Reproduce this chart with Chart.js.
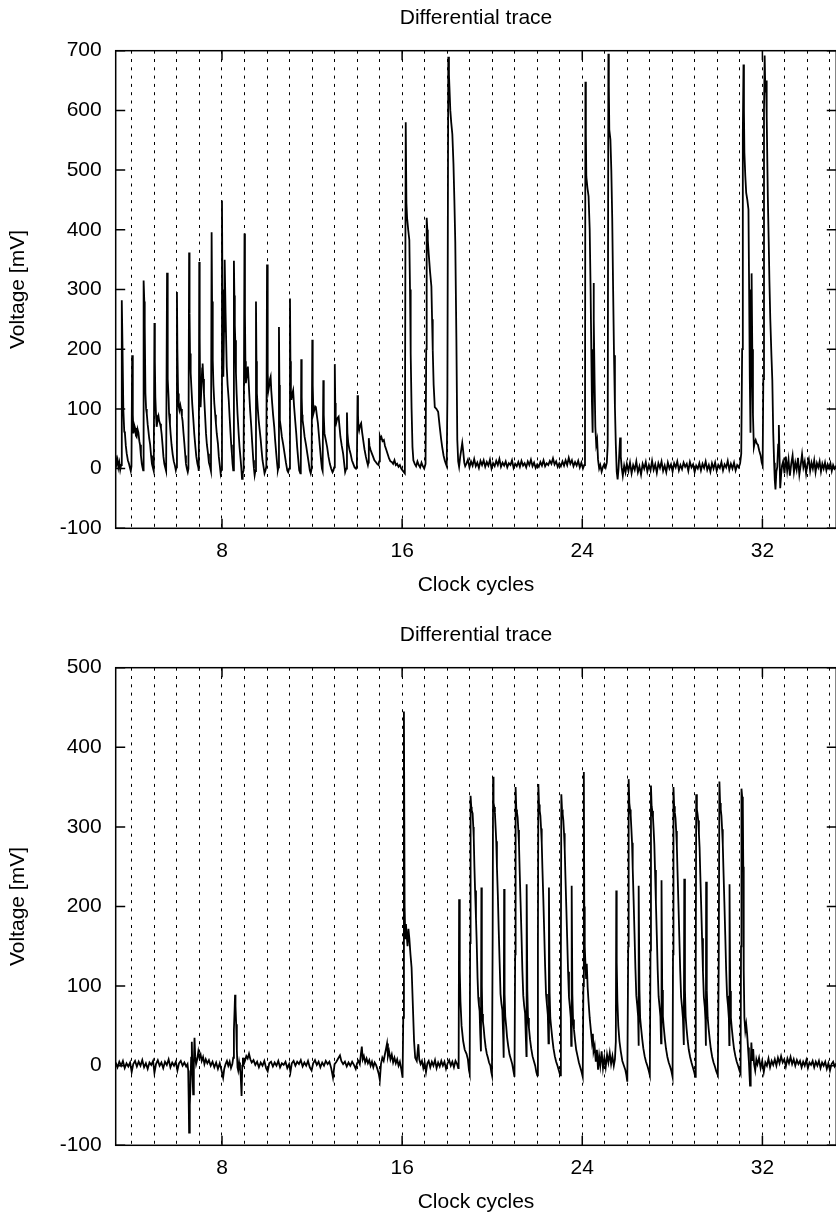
<!DOCTYPE html>
<html>
<head>
<meta charset="utf-8">
<title>Differential trace</title>
<script src="https://cdn.jsdelivr.net/npm/chart.js@4/dist/chart.umd.min.js"></script>
<style>
  html, body { margin: 0; padding: 0; background: #fff; }
  body { width: 836px; height: 1220px; overflow: hidden; position: relative; }
  canvas { position: absolute; left: 0; }
  #topChart { top: 0; }
  #bottomChart { top: 617px; }
</style>
</head>
<body>
<canvas id="topChart" width="840" height="610"></canvas>
<canvas id="bottomChart" width="840" height="610"></canvas>
<script>
/* ------------------------------
 * Data
 * each point: [clock cycle, voltage in mV]
 -------------------------------- */
const gridCycles = [4, 5, 6, 7, 8, 9, 10, 11, 12, 13, 14, 15, 16, 17, 18, 19, 20,
  21, 22, 23, 24, 25, 26, 27, 28, 29, 30, 31, 32, 33, 34, 35];
const labelCycles = [8, 16, 24, 32];

// upper plot: decaying bursts before cycle 16
const topRamp = [
  [3.28, 22], [3.32, 8], [3.36, 15], [3.40, 2], [3.44, 10], [3.48, -2], [3.52, 6],
  [3.55, 282], [3.58, 210], [3.62, 98], [3.66, 62], [3.69, 59], [3.73, 38], [3.77, 25], [3.82, 14], [3.87, 8], [3.91, 2], [3.95, -4], [3.98, 4],
  [4.01, 190], [4.04, 90], [4.07, 59], [4.11, 72], [4.14, 68], [4.18, 55], [4.21, 53], [4.25, 66], [4.29, 60], [4.33, 46], [4.36, 40], [4.40, 22], [4.44, 8], [4.47, 2], [4.50, -3],
  [4.52, 315], [4.55, 280], [4.57, 240], [4.60, 126], [4.63, 100], [4.66, 92], [4.70, 74], [4.73, 64], [4.77, 50], [4.81, 40], [4.85, 22], [4.89, 8], [4.93, 2], [4.97, -4],
  [5.00, 244], [5.02, 180], [5.04, 120], [5.07, 90], [5.10, 70], [5.14, 82], [5.18, 88], [5.21, 80], [5.25, 75], [5.29, 68], [5.32, 58], [5.36, 40], [5.40, 20], [5.44, 8], [5.48, 2], [5.52, -4],
  [5.56, 328], [5.58, 230], [5.60, 150], [5.63, 118], [5.65, 92], [5.69, 74], [5.72, 58], [5.76, 40], [5.81, 24], [5.86, 12], [5.91, 5], [5.95, -3], [5.98, 2],
  [6.00, 296], [6.02, 200], [6.05, 126], [6.08, 104], [6.11, 98], [6.15, 106], [6.18, 100], [6.22, 88], [6.25, 80], [6.29, 60], [6.33, 42], [6.37, 22], [6.40, 8], [6.44, 0], [6.48, -6], [6.51, 0],
  [6.54, 362], [6.56, 260], [6.58, 193], [6.61, 160], [6.64, 137], [6.68, 108], [6.73, 81], [6.77, 58], [6.82, 36], [6.86, 20], [6.91, 8], [6.95, 2], [6.97, -4],
  [6.99, 346], [7.01, 220], [7.03, 130], [7.05, 103], [7.09, 140], [7.12, 168], [7.14, 176], [7.17, 150], [7.20, 126], [7.24, 96], [7.29, 59], [7.33, 40], [7.38, 25], [7.42, 10], [7.47, 3], [7.51, -4],
  [7.54, 396], [7.56, 280], [7.59, 182], [7.62, 140], [7.66, 109], [7.70, 90], [7.73, 76], [7.77, 58], [7.82, 42], [7.86, 20], [7.91, 3], [7.94, -8], [7.97, -2],
  [8.00, 449], [8.02, 300], [8.04, 200], [8.06, 154], [8.09, 230], [8.11, 320], [8.13, 350], [8.16, 260], [8.21, 171], [8.25, 140], [8.30, 115], [8.34, 86], [8.38, 59], [8.41, 40], [8.44, 25], [8.47, 8], [8.50, -3],
  [8.53, 348], [8.55, 290], [8.57, 240], [8.59, 215], [8.62, 160], [8.65, 126], [8.69, 92], [8.74, 59], [8.78, 36], [8.83, 14], [8.86, 0], [8.89, -17], [8.92, -8], [8.96, -3],
  [9.00, 394], [9.02, 260], [9.04, 180], [9.06, 143], [9.10, 155], [9.13, 168], [9.15, 171], [9.18, 150], [9.21, 126], [9.25, 98], [9.30, 70], [9.34, 44], [9.39, 14], [9.42, 0], [9.45, -11], [9.48, -4],
  [9.51, 280], [9.53, 180], [9.55, 126], [9.59, 100], [9.63, 81], [9.67, 66], [9.72, 48], [9.76, 30], [9.80, 14], [9.85, 2], [9.89, -8], [9.94, -2], [9.97, 4],
  [10.00, 342], [10.02, 230], [10.04, 160], [10.06, 131], [10.10, 140], [10.13, 150], [10.16, 154], [10.19, 130], [10.23, 109], [10.27, 90], [10.32, 70], [10.36, 48], [10.41, 25], [10.45, 8], [10.48, -3], [10.51, 2],
  [10.53, 237], [10.55, 140], [10.57, 81], [10.61, 70], [10.66, 53], [10.72, 40], [10.78, 25], [10.84, 10], [10.90, -3], [10.94, -6], [10.98, 0],
  [11.02, 285], [11.04, 180], [11.06, 130], [11.08, 115], [11.12, 125], [11.16, 131], [11.20, 105], [11.25, 81], [11.30, 58], [11.34, 36], [11.38, 18], [11.43, -3], [11.48, -8], [11.50, -2],
  [11.52, 183], [11.54, 120], [11.56, 90], [11.58, 81], [11.62, 70], [11.67, 53], [11.73, 40], [11.79, 25], [11.85, 10], [11.90, -3], [11.94, -8], [11.98, 0],
  [12.01, 216], [12.03, 140], [12.06, 92], [12.10, 98], [12.14, 104], [12.17, 103], [12.21, 90], [12.26, 76], [12.30, 58], [12.35, 36], [12.40, 14], [12.44, 0], [12.47, -4],
  [12.50, 148], [12.52, 90], [12.55, 59], [12.61, 48], [12.67, 36], [12.73, 20], [12.79, 8], [12.85, 0], [12.91, -6], [12.95, -3], [12.98, 2],
  [13.01, 175], [13.03, 110], [13.05, 80], [13.07, 76], [13.12, 84], [13.18, 87], [13.22, 70], [13.26, 53], [13.32, 38], [13.38, 25], [13.43, 8], [13.47, -6], [13.52, 0],
  [13.55, 94], [13.57, 60], [13.61, 42], [13.66, 32], [13.71, 25], [13.77, 14], [13.83, 8], [13.89, 2], [13.95, 0], [13.99, 4],
  [14.02, 123], [14.04, 90], [14.06, 70], [14.09, 64], [14.13, 72], [14.18, 76], [14.22, 62], [14.27, 48], [14.33, 32], [14.39, 20], [14.44, 12], [14.48, 6], [14.50, 10],
  [14.52, 51], [14.55, 38], [14.60, 31], [14.65, 26], [14.71, 20], [14.77, 14], [14.83, 11], [14.89, 8], [14.95, 6], [14.98, 12],
  [15.01, 54], [15.04, 50], [15.08, 53], [15.13, 46], [15.19, 48], [15.24, 38], [15.30, 31], [15.36, 24], [15.42, 17], [15.48, 12], [15.54, 11], [15.60, 8], [15.66, 14],
  [15.72, 6], [15.78, 8], [15.84, 3], [15.90, 6], [15.96, 0], [16.02, -3], [16.08, -6], [16.12, -8]
];

// upper plot: three tall spikes around 16-18
const topBurstA = [
  [16.16, 580], [16.19, 445], [16.22, 420], [16.27, 400], [16.32, 383], [16.35, 300], [16.38, 193], [16.42, 100], [16.46, 36], [16.50, 14],
  [16.56, 8], [16.62, 4], [16.68, 12], [16.74, 6], [16.80, 2], [16.86, 10], [16.92, 4], [16.98, 0], [17.04, 8],
  [17.07, 200], [17.09, 420], [17.12, 400], [17.14, 383], [17.18, 360], [17.24, 330], [17.30, 305], [17.33, 250], [17.36, 198], [17.40, 140], [17.45, 103],
  [17.52, 100], [17.60, 95], [17.67, 70], [17.73, 50], [17.78, 36], [17.84, 22], [17.89, 14], [17.94, 8], [17.98, 4],
  [18.01, 120], [18.05, 690], [18.08, 660], [18.10, 640], [18.14, 600], [18.18, 580], [18.23, 560], [18.28, 510], [18.32, 450], [18.36, 380], [18.41, 215],
  [18.45, 48], [18.49, 12], [18.53, 3], [18.58, 20], [18.62, 30], [18.67, 43], [18.71, 30], [18.76, 10], [18.80, 4]
];

const topQuietA = [
  [18.85, 8], [18.92, 15], [18.99, 2], [19.06, 12], [19.13, 5], [19.20, 16], [19.27, 4], [19.34, 10], [19.41, 1], [19.48, 13],
  [19.55, 6], [19.62, 14], [19.69, 3], [19.76, 11], [19.83, 5], [19.90, 15], [19.97, 0], [20.04, 9], [20.11, 4], [20.18, 13],
  [20.25, 6], [20.32, 16], [20.39, 3], [20.46, 10], [20.53, 5], [20.60, 12], [20.67, 2], [20.74, 9], [20.81, 6], [20.88, 14],
  [20.95, 1], [21.02, 8], [21.09, 4], [21.16, 11], [21.23, 3], [21.30, 13], [21.37, 5], [21.44, 9], [21.51, 2], [21.58, 12],
  [21.65, 6], [21.72, 15], [21.79, 4], [21.86, 10], [21.93, 1], [22.00, 7], [22.07, 3], [22.14, 11], [22.21, 5], [22.28, 14],
  [22.35, 4], [22.42, 9], [22.49, 6], [22.56, 13], [22.63, 8], [22.70, 17], [22.77, 7], [22.84, 12], [22.91, 3], [22.98, 9],
  [23.05, 4], [23.12, 12], [23.19, 5], [23.26, 14], [23.33, 6], [23.40, 18], [23.47, 8], [23.54, 14], [23.61, 4], [23.68, 11],
  [23.75, 5], [23.82, 13], [23.89, 2], [23.96, 10], [24.03, 0], [24.09, 6]
];

const topBurstB = [
  [24.12, 12], [24.14, 648], [24.16, 560], [24.18, 489], [24.23, 470], [24.28, 456], [24.33, 400], [24.37, 300], [24.40, 200], [24.43, 110],
  [24.46, 60], [24.48, 150], [24.50, 311], [24.52, 250], [24.55, 140], [24.58, 70], [24.62, 40], [24.66, 48], [24.70, 15], [24.75, 0],
  [24.80, 6], [24.86, -5], [24.92, 3], [24.98, 8], [25.04, 2], [25.09, 10], [25.13, 40], [25.16, 695], [25.18, 640], [25.20, 568],
  [25.25, 551], [25.29, 500], [25.33, 420], [25.37, 300], [25.41, 190], [25.45, 103], [25.49, 40], [25.53, -5], [25.57, -18], [25.61, 0],
  [25.65, 30], [25.68, 52], [25.71, 20], [25.75, 2], [25.80, -12], [25.86, 5], [25.92, -6]
];

const topQuietB = [
  [25.98, 8], [26.05, -4], [26.12, 10], [26.19, -8], [26.26, 6], [26.33, -2], [26.40, 12], [26.47, -6], [26.54, 4], [26.61, -10],
  [26.68, 8], [26.75, 0], [26.82, 11], [26.89, -5], [26.96, 6], [27.03, -3], [27.10, 13], [27.17, -2], [27.24, 7], [27.31, -7],
  [27.38, 9], [27.45, 1], [27.52, 12], [27.59, -4], [27.66, 5], [27.73, -6], [27.80, 10], [27.87, 0], [27.94, 7], [28.01, -5],
  [28.08, 9], [28.15, 2], [28.22, 12], [28.29, -3], [28.36, 6], [28.43, -1], [28.50, 10], [28.57, 3], [28.64, 8], [28.71, -4],
  [28.78, 11], [28.85, 2], [28.92, 7], [28.99, -6], [29.06, 5], [29.13, 0], [29.20, 9], [29.27, -3], [29.34, 8], [29.41, 1],
  [29.48, 12], [29.55, -2], [29.62, 6], [29.69, -5], [29.76, 9], [29.83, 0], [29.90, 10], [29.97, -4], [30.04, 6], [30.11, 1],
  [30.18, 11], [30.25, -3], [30.32, 7], [30.39, 2], [30.46, 13], [30.53, -2], [30.60, 8], [30.67, 0], [30.74, 10], [30.81, -3],
  [30.88, 6], [30.95, 2], [31.01, 9]
];

const topBurstC = [
  [31.06, 25], [31.10, 200], [31.13, 560], [31.16, 677], [31.18, 600], [31.20, 529], [31.24, 490], [31.28, 462], [31.33, 450], [31.38, 434],
  [31.41, 300], [31.44, 150], [31.47, 60], [31.50, 200], [31.52, 327], [31.55, 200], [31.58, 90], [31.62, 36], [31.66, 44], [31.70, 48],
  [31.75, 42], [31.80, 40], [31.86, 30], [31.92, 22], [31.97, 10], [32.01, 5], [32.04, 150], [32.07, 600], [32.10, 692], [32.13, 630],
  [32.16, 650], [32.19, 590], [32.24, 456], [32.28, 380], [32.31, 316], [32.35, 250], [32.40, 190], [32.44, 148], [32.48, 60], [32.52, 10],
  [32.55, -20], [32.58, -35], [32.62, -5], [32.66, 3], [32.70, 40], [32.73, 73], [32.76, 20], [32.79, -33], [32.83, -10], [32.87, 5]
];

const topTail = [
  [32.92, 12], [32.98, -8], [33.04, 20], [33.10, -4], [33.16, 15], [33.22, -12], [33.28, 8], [33.34, 22], [33.40, -6], [33.46, 10],
  [33.52, -2], [33.58, 18], [33.64, -10], [33.70, 6], [33.76, 24], [33.82, 2], [33.88, 12], [33.94, -8], [34.00, 8], [34.06, 16],
  [34.12, -4], [34.18, 10], [34.24, 0], [34.30, 14], [34.36, -6], [34.42, 9], [34.48, 2], [34.54, 12], [34.60, -5], [34.66, 8],
  [34.72, 0], [34.78, 10], [34.84, -3], [34.90, 7], [34.96, 1], [35.02, 9], [35.08, -4], [35.14, 6], [35.20, 0], [35.28, 5]
];

// lower plot: quiet start with a few glitches
const bottomQuiet = [
  [3.28, 4], [3.36, -2], [3.44, 5], [3.52, 0], [3.60, 6], [3.68, -3], [3.76, 3], [3.84, -1], [3.92, 4], [3.99, -8],
  [4.06, 2], [4.14, 6], [4.22, -1], [4.30, 5], [4.38, 0], [4.46, 7], [4.54, -2], [4.62, 3], [4.70, -4], [4.78, 4],
  [4.86, 1], [4.94, 6], [5.00, -9], [5.07, 2], [5.15, 7], [5.23, 0], [5.31, 4], [5.39, -3], [5.47, 5], [5.55, 1],
  [5.63, 8], [5.71, -2], [5.79, 4], [5.87, 0], [5.95, 5], [6.02, -6], [6.09, 3], [6.17, 6], [6.25, 0], [6.33, 4],
  [6.41, -1], [6.47, 2], [6.50, -6], [6.52, -40], [6.54, -84], [6.57, -50], [6.60, -25], [6.63, 10], [6.66, 30], [6.69, -10],
  [6.72, -36], [6.75, 0], [6.78, 35], [6.81, 12], [6.85, 2], [6.90, 8], [6.95, 18], [7.00, 10], [7.05, 14], [7.10, 6],
  [7.16, 11], [7.22, 2], [7.28, 8], [7.35, 3], [7.42, 7], [7.50, 0], [7.58, 5], [7.66, -2], [7.74, 4], [7.82, -4],
  [7.90, 3], [7.98, -6], [8.05, -15], [8.10, -4], [8.16, 2], [8.22, 6], [8.28, 0], [8.34, 5], [8.40, -3], [8.46, 2],
  [8.50, 10], [8.53, 45], [8.56, 70], [8.58, 89], [8.60, 75], [8.63, 52], [8.66, 20], [8.69, -2], [8.72, -6], [8.76, 4],
  [8.80, -4], [8.83, -12], [8.87, -38], [8.90, 0], [8.93, 10], [8.97, 2], [9.02, 6], [9.08, 12], [9.14, 9], [9.20, 15],
  [9.26, 8], [9.32, 4], [9.40, 7], [9.48, 1], [9.56, 5], [9.64, -2], [9.72, 4], [9.80, 0], [9.88, 6], [9.96, -3],
  [10.03, -7], [10.10, 3], [10.18, 5], [10.26, -1], [10.34, 4], [10.42, 0], [10.50, 6], [10.58, -2], [10.66, 3], [10.74, 1],
  [10.82, 5], [10.90, -3], [10.98, 2], [11.04, -8], [11.10, 3], [11.18, 6], [11.26, 0], [11.34, 5], [11.42, 2], [11.50, 7],
  [11.58, -1], [11.66, 4], [11.74, 0], [11.82, 6], [11.90, -2], [11.98, -6], [12.05, 3], [12.13, 7], [12.21, 1], [12.29, 5],
  [12.37, -2], [12.45, 4], [12.53, 0], [12.61, 6], [12.69, 2], [12.77, 5], [12.85, -3], [12.93, -15], [13.00, 2], [13.08, 5],
  [13.16, 9], [13.24, 13], [13.30, 6], [13.38, 2], [13.46, 5], [13.54, -1], [13.62, 4], [13.70, 0], [13.78, 5], [13.86, 1],
  [13.94, -4], [14.00, 3], [14.06, 6], [14.12, 2], [14.17, 15], [14.21, 24], [14.25, 8], [14.30, 12], [14.36, 4], [14.42, 9],
  [14.48, 3], [14.54, 7], [14.60, 0], [14.66, 5], [14.72, -2], [14.78, 4], [14.84, 1], [14.90, -4], [14.96, -10], [15.01, -18],
  [15.06, 2], [15.12, 10], [15.18, 6], [15.24, 15], [15.29, 22], [15.33, 28], [15.37, 12], [15.42, 18], [15.48, 8], [15.54, 14],
  [15.60, 4], [15.66, 10], [15.72, 3], [15.78, 8], [15.84, 0], [15.90, 5], [15.96, -4], [16.02, -15]
];

const bottomSpike = [
  [16.05, 60], [16.08, 445], [16.11, 200], [16.14, 160], [16.17, 178], [16.20, 165], [16.24, 150], [16.28, 172], [16.32, 160], [16.37, 140],
  [16.42, 123], [16.47, 81], [16.53, 31], [16.58, 10], [16.65, 6], [16.69, 18], [16.72, 27], [16.76, 8], [16.82, 2], [16.88, 6],
  [16.94, -3], [17.00, 4], [17.06, -8], [17.12, 3], [17.18, 6], [17.25, -2], [17.32, 5], [17.39, 0], [17.46, 7], [17.53, -3],
  [17.60, 4], [17.67, -1], [17.74, 6], [17.81, 0], [17.88, 5], [17.95, -4], [18.02, 3], [18.09, 7], [18.16, 0], [18.23, 5],
  [18.30, -2], [18.37, 6], [18.44, 2], [18.49, -3]
];

// lower plot: square pulses, cycles 19-24
const bottomPulsesA = [
  [18.51, 0], [18.53, 209], [18.56, 120], [18.59, 81], [18.64, 50], [18.71, 31], [18.78, 20], [18.86, 15], [18.92, 8], [18.97, -6], [19.00, -10],
  [19.02, 154], [19.04, 339], [19.07, 325], [19.09, 321], [19.13, 317], [19.16, 300], [19.18, 287], [19.21, 250], [19.24, 220], [19.28, 185],
  [19.31, 157], [19.35, 110], [19.38, 86], [19.41, 76], [19.44, 69], [19.47, 40], [19.50, 18], [19.52, 224], [19.54, 100], [19.56, 65],
  [19.59, 55], [19.62, 48], [19.66, 35], [19.71, 23], [19.76, 15], [19.81, 10], [19.86, 4], [19.92, 0], [19.96, -8], [19.99, -12],
  [20.02, 160], [20.04, 363], [20.06, 330], [20.09, 325], [20.12, 318], [20.15, 300], [20.18, 282], [20.21, 250], [20.25, 215], [20.29, 170],
  [20.33, 130], [20.37, 90], [20.41, 78], [20.45, 70], [20.49, 35], [20.51, 10], [20.53, 222], [20.55, 90], [20.58, 62], [20.62, 50],
  [20.66, 36], [20.71, 25], [20.77, 14], [20.83, 8], [20.89, 2], [20.94, -6], [20.99, -14],
  [21.02, 140], [21.04, 350], [21.07, 322], [21.10, 318], [21.13, 312], [21.16, 296], [21.19, 278], [21.22, 245], [21.26, 205], [21.30, 165],
  [21.34, 120], [21.38, 88], [21.42, 75], [21.46, 66], [21.50, 30], [21.52, 12], [21.53, 228], [21.56, 95], [21.59, 60], [21.63, 48],
  [21.68, 33], [21.73, 22], [21.79, 12], [21.85, 6], [21.91, 0], [21.96, -8], [22.00, -12],
  [22.03, 150], [22.05, 354], [22.08, 328], [22.11, 320], [22.14, 314], [22.17, 298], [22.20, 280], [22.23, 248], [22.27, 210], [22.31, 168],
  [22.35, 125], [22.39, 90], [22.43, 77], [22.47, 64], [22.50, 28], [22.52, 224], [22.55, 92], [22.58, 60], [22.62, 48], [22.67, 34],
  [22.72, 22], [22.78, 12], [22.84, 5], [22.90, 0], [22.96, -6], [23.02, -12],
  [23.05, 140], [23.07, 341], [23.10, 322], [23.13, 316], [23.16, 308], [23.19, 292], [23.22, 272], [23.25, 240], [23.29, 200], [23.33, 160],
  [23.37, 118], [23.41, 86], [23.45, 74], [23.49, 60], [23.51, 25], [23.53, 226], [23.56, 90], [23.59, 58], [23.63, 46], [23.68, 32],
  [23.73, 20], [23.79, 12], [23.85, 4], [23.91, -2], [23.97, -8], [24.02, -14],
  [24.05, 100], [24.07, 369], [24.09, 200], [24.11, 150], [24.14, 128], [24.17, 110], [24.20, 128], [24.24, 98], [24.28, 80], [24.33, 60],
  [24.38, 45], [24.43, 30], [24.47, 40], [24.50, 18]
];

const bottomGap = [
  [24.55, 25], [24.60, 5], [24.65, 20], [24.70, -5], [24.75, 12], [24.80, 0], [24.86, 18], [24.92, -3], [24.98, 10], [25.04, -2],
  [25.10, 14], [25.16, 4], [25.22, 16], [25.28, 2], [25.34, 12], [25.40, 0], [25.45, 8], [25.49, 30], [25.51, 220], [25.53, 130],
  [25.56, 81], [25.60, 50], [25.65, 31], [25.71, 18], [25.78, 6], [25.85, 0], [25.91, -5], [25.96, -12], [26.00, -20]
];

// lower plot: square pulses, cycles 26-31
const bottomPulsesB = [
  [26.04, 150], [26.06, 360], [26.09, 330], [26.12, 322], [26.15, 315], [26.18, 298], [26.21, 280], [26.24, 248], [26.28, 208], [26.32, 166],
  [26.36, 122], [26.40, 88], [26.44, 76], [26.48, 62], [26.50, 25], [26.51, 226], [26.54, 95], [26.57, 60], [26.61, 48], [26.66, 34],
  [26.71, 22], [26.77, 12], [26.83, 5], [26.89, 0], [26.95, -6], [27.00, -12],
  [27.03, 145], [27.05, 352], [27.08, 326], [27.11, 320], [27.14, 312], [27.17, 296], [27.20, 278], [27.23, 246], [27.27, 205], [27.31, 164],
  [27.35, 120], [27.39, 87], [27.43, 75], [27.47, 62], [27.50, 28], [27.52, 233], [27.55, 95], [27.58, 62], [27.62, 48], [27.67, 33],
  [27.72, 21], [27.78, 11], [27.84, 4], [27.90, -1], [27.96, -7], [28.01, -14],
  [28.03, 140], [28.05, 350], [28.08, 326], [28.11, 318], [28.14, 311], [28.17, 295], [28.20, 276], [28.23, 244], [28.27, 204], [28.31, 162],
  [28.35, 119], [28.39, 86], [28.43, 74], [28.47, 60], [28.51, 26], [28.53, 235], [28.56, 96], [28.59, 62], [28.63, 47], [28.68, 32],
  [28.73, 20], [28.79, 11], [28.85, 4], [28.91, -2], [28.97, -8], [29.02, -14],
  [29.04, 130], [29.06, 341], [29.09, 322], [29.12, 316], [29.15, 308], [29.18, 292], [29.21, 274], [29.24, 242], [29.28, 202], [29.32, 160],
  [29.36, 118], [29.40, 86], [29.44, 74], [29.47, 58], [29.49, 25], [29.50, 231], [29.53, 94], [29.57, 60], [29.61, 47], [29.66, 33],
  [29.71, 21], [29.77, 11], [29.83, 4], [29.89, -1], [29.95, -7], [30.02, -12],
  [30.06, 130], [30.09, 357], [30.12, 330], [30.15, 322], [30.18, 314], [30.21, 297], [30.24, 278], [30.27, 246], [30.31, 206], [30.35, 164],
  [30.39, 120], [30.43, 88], [30.47, 76], [30.51, 60], [30.53, 26], [30.54, 228], [30.57, 94], [30.60, 60], [30.64, 47], [30.69, 33],
  [30.74, 21], [30.80, 12], [30.86, 5], [30.92, 0], [30.98, -6], [31.03, -10],
  [31.05, 150], [31.07, 348], [31.10, 338], [31.13, 330], [31.15, 250], [31.17, 120], [31.20, 60], [31.24, 44], [31.28, 52], [31.32, 40],
  [31.36, 23], [31.40, 5], [31.45, -25], [31.48, 0], [31.51, 29], [31.55, 6], [31.59, 21], [31.63, 2], [31.68, -6], [31.73, 8]
];

const bottomTail = [
  [31.78, 2], [31.85, 10], [31.92, -3], [31.99, 6], [32.06, -8], [32.13, 4], [32.20, 0], [32.27, 9], [32.34, -2], [32.41, 6],
  [32.48, 1], [32.55, 8], [32.62, 0], [32.69, 10], [32.76, 3], [32.83, 12], [32.90, 4], [32.97, 8], [33.04, -1], [33.11, 9],
  [33.18, 3], [33.25, 11], [33.32, 2], [33.39, 8], [33.46, 0], [33.53, 7], [33.60, 2], [33.67, 6], [33.74, -2], [33.81, 5],
  [33.88, 0], [33.95, 7], [34.02, -3], [34.09, 4], [34.16, 1], [34.23, 6], [34.30, -2], [34.37, 5], [34.44, 0], [34.51, 6],
  [34.58, -3], [34.65, 4], [34.72, 0], [34.79, 5], [34.86, -4], [34.93, 3], [35.00, -6], [35.07, 2], [35.14, 5], [35.21, -1], [35.28, 3]
];

window.addEventListener("DOMContentLoaded", function () {
  const FONT = { family: "'Liberation Sans', Arial, Helvetica, sans-serif", size: 21, weight: "normal" };
  const TICK_LEN = 9.5;

  /** ------------------------------
   * [1] frame + inward tick marks (gnuplot look)
   -------------------------------- */
  const framePlugin = {
    id: "frame",
    afterDatasetsDraw(chart) {
      const { ctx, chartArea: a, scales } = chart;
      const xs = scales.x, ys = scales.y;
      ctx.save();
      ctx.strokeStyle = "#000";
      ctx.lineWidth = 1.5;
      ctx.strokeRect(a.left, a.top, a.right - a.left, a.bottom - a.top);
      ctx.beginPath();
      ys.ticks.forEach(t => {
        const py = ys.getPixelForValue(t.value);
        ctx.moveTo(a.left, py); ctx.lineTo(a.left + TICK_LEN, py);
        ctx.moveTo(a.right, py); ctx.lineTo(a.right - TICK_LEN, py);
      });
      labelCycles.forEach(v => {
        const px = xs.getPixelForValue(v);
        ctx.moveTo(px, a.bottom); ctx.lineTo(px, a.bottom - TICK_LEN);
        ctx.moveTo(px, a.top); ctx.lineTo(px, a.top + TICK_LEN);
      });
      ctx.stroke();
      ctx.restore();
    }
  };

  /** ------------------------------
   * [2] one trace plot
   -------------------------------- */
  function drawTrace(canvasId, segments, yMin, yMax) {
    const points = [].concat(...segments).map(p => ({ x: p[0], y: p[1] }));
    new Chart(document.getElementById(canvasId), {
      type: "line",
      data: {
        datasets: [{
          data: points,
          borderColor: "#000",
          borderWidth: 1.8,
          pointRadius: 0,
          tension: 0,
          fill: false
        }]
      },
      options: {
        responsive: false,
        animation: false,
        events: [],
        layout: { padding: { left: 0, right: 3, top: 0, bottom: 0 } },
        plugins: {
          legend: { display: false },
          tooltip: { enabled: false },
          title: {
            display: true,
            fullSize: false,   // centre over the plot box, not the canvas
            text: "Differential trace",
            color: "#000",
            font: FONT,
            padding: { top: 5.4, bottom: 20.1 }
          }
        },
        scales: {
          x: {
            type: "linear",
            min: 3.28,
            max: 35.28,
            afterBuildTicks: axis => { axis.ticks = gridCycles.map(v => ({ value: v })); },
            afterFit: axis => { axis.height = 81.7; },
            ticks: {
              autoSkip: false,
              maxRotation: 0,
              padding: 10,
              color: "#000",
              font: FONT,
              callback: v => (labelCycles.includes(v) ? String(v) : "")
            },
            grid: { color: "#000", lineWidth: 1, drawTicks: false },
            border: { display: false, dash: [3, 5.3] },
            title: { display: true, text: "Clock cycles", color: "#000", font: FONT, padding: { top: 0, bottom: 12.4 } }
          },
          y: {
            min: yMin,
            max: yMax,
            afterFit: axis => { axis.width = 115.7; },
            ticks: { stepSize: 100, padding: 14, color: "#000", font: FONT },
            grid: { display: false, drawTicks: false },
            border: { display: false },
            title: { display: true, text: "Voltage [mV]", color: "#000", font: FONT, padding: { top: 5.4, bottom: 0 } }
          }
        }
      },
      plugins: [framePlugin]
    });
  }

  /** ------------------------------
   * [3] upper and lower plots
   -------------------------------- */
  drawTrace("topChart", [topRamp, topBurstA, topQuietA, topBurstB, topQuietB, topBurstC, topTail], -100, 700);
  drawTrace("bottomChart", [bottomQuiet, bottomSpike, bottomPulsesA, bottomGap, bottomPulsesB, bottomTail], -100, 500);
});
</script>
</body>
</html>
